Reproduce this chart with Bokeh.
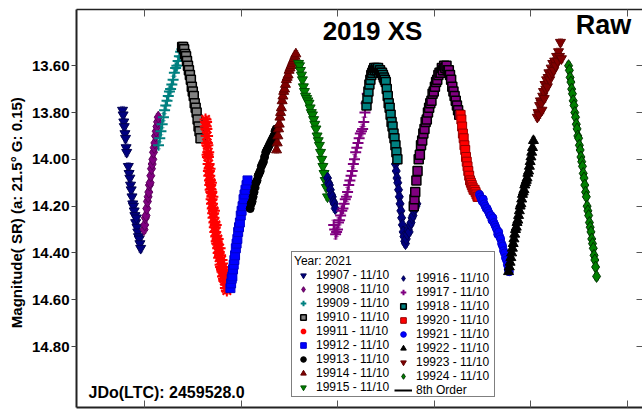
from bokeh.plotting import figure
from bokeh.models import (ColumnDataSource, Range1d, LinearAxis, FixedTicker,
                          NumeralTickFormatter, CustomJSTickFormatter, Legend,
                          LegendItem, Label, Whisker, TeeHead)
from bokeh.embed import file_html
from bokeh.resources import INLINE

FONT = "Liberation Sans"

# ---------------------------------------------------------------- data
y_ticks = [13.60, 13.80, 14.00, 14.20, 14.40, 14.60, 14.80]
x_ticks = [1, 2, 3, 4, 5, 6]          # hours after JDo

s19907_t = [0.772, 0.778, 0.785, 0.790, 0.797, 0.803, 0.809, 0.815, 0.832, 0.840,
            0.848, 0.855, 0.862, 0.870, 0.878, 0.885, 0.893, 0.900, 0.908, 0.915,
            0.922, 0.930, 0.937, 0.945, 0.952, 0.960]
s19907_mag = [13.79, 13.81, 13.84, 13.86, 13.89, 13.91, 13.95, 13.97, 14.03, 14.06,
              14.08, 14.11, 14.13, 14.16, 14.19, 14.20, 14.22, 14.24, 14.27, 14.25,
              14.29, 14.31, 14.33, 14.34, 14.36, 14.38]

s19908_t = [0.995, 1.002, 1.009, 1.016, 1.023, 1.030, 1.037, 1.044, 1.051, 1.058,
            1.065, 1.072, 1.079, 1.086, 1.093, 1.100, 1.107, 1.114, 1.121, 1.128,
            1.135, 1.142]
s19908_mag = [14.30, 14.28, 14.25, 14.24, 14.21, 14.18, 14.16, 14.14, 14.11, 14.10,
              14.07, 14.04, 14.02, 14.00, 13.97, 13.95, 13.93, 13.90, 13.88, 13.86,
              13.84, 13.82]

s19909_t = [1.145, 1.158, 1.170, 1.183, 1.196, 1.208, 1.220, 1.233, 1.246, 1.258,
            1.270, 1.283, 1.296, 1.309, 1.322, 1.335, 1.348, 1.361, 1.374, 1.387]
s19909_mag = [13.94, 13.91, 13.88, 13.85, 13.82, 13.79, 13.77, 13.75, 13.73, 13.71,
              13.70, 13.68, 13.66, 13.63, 13.61, 13.60, 13.58, 13.56, 13.54, 13.53]

s19910_t = [1.390, 1.400, 1.410, 1.420, 1.430, 1.440, 1.450, 1.460, 1.470, 1.480,
            1.490, 1.500, 1.510, 1.520, 1.530, 1.540, 1.550, 1.560, 1.570, 1.580]
s19910_mag = [13.52, 13.52, 13.53, 13.55, 13.56, 13.58, 13.60, 13.62, 13.64, 13.66,
              13.69, 13.71, 13.73, 13.76, 13.78, 13.80, 13.83, 13.86, 13.88, 13.91]

s19911_t = [1.632, 1.635, 1.638, 1.641, 1.643, 1.646, 1.648, 1.651, 1.653, 1.657,
            1.660, 1.664, 1.667, 1.671, 1.674, 1.678, 1.681, 1.685, 1.688, 1.692,
            1.695, 1.699, 1.703, 1.707, 1.711, 1.715, 1.719, 1.724, 1.728, 1.733,
            1.738, 1.743, 1.748, 1.753, 1.758, 1.763, 1.768, 1.773, 1.778, 1.783,
            1.788, 1.793, 1.798, 1.803, 1.808, 1.813, 1.818, 1.823, 1.828, 1.833,
            1.838, 1.843, 1.848, 1.853, 1.858]
s19911_mag = [13.83, 13.86, 13.84, 13.87, 13.90, 13.93, 13.90, 13.94, 13.98, 13.99,
              13.97, 14.02, 14.05, 14.07, 14.04, 14.09, 14.11, 14.13, 14.10, 14.14,
              14.17, 14.19, 14.16, 14.21, 14.23, 14.25, 14.22, 14.27, 14.29, 14.31,
              14.28, 14.33, 14.35, 14.36, 14.34, 14.38, 14.40, 14.42, 14.38, 14.41,
              14.45, 14.46, 14.43, 14.47, 14.48, 14.50, 14.46, 14.51, 14.52, 14.52,
              14.49, 14.55, 14.55, 14.56, 14.53]

s19912_t = [1.890, 1.897, 1.903, 1.910, 1.917, 1.924, 1.931, 1.938, 1.946, 1.954,
            1.962, 1.970, 1.979, 1.988, 1.997, 2.006, 2.016, 2.026, 2.036, 2.046,
            2.057, 2.067]
s19912_mag = [14.55, 14.53, 14.51, 14.50, 14.47, 14.45, 14.43, 14.41, 14.38, 14.36,
              14.34, 14.31, 14.29, 14.27, 14.24, 14.22, 14.20, 14.17, 14.15, 14.13,
              14.11, 14.09]

s19913_t = [2.095, 2.105, 2.115, 2.125, 2.135, 2.145, 2.155, 2.166, 2.177, 2.188,
            2.199, 2.210, 2.221, 2.232, 2.244, 2.256, 2.268, 2.280, 2.292, 2.304,
            2.316, 2.328, 2.340, 2.352, 2.364]
s19913_mag = [14.21, 14.19, 14.18, 14.16, 14.14, 14.12, 14.10, 14.09, 14.07, 14.06,
              14.05, 14.03, 14.02, 14.01, 13.99, 13.97, 13.96, 13.95, 13.94, 13.93,
              13.92, 13.91, 13.90, 13.88, 13.87]

s19914_t = [2.368, 2.375, 2.382, 2.389, 2.396, 2.403, 2.410, 2.418, 2.426, 2.434,
            2.442, 2.451, 2.460, 2.469, 2.478, 2.488, 2.498, 2.508, 2.518, 2.528,
            2.538, 2.548, 2.558, 2.568]
s19914_mag = [13.96, 13.93, 13.90, 13.87, 13.85, 13.82, 13.80, 13.78, 13.75, 13.73,
              13.71, 13.70, 13.68, 13.66, 13.65, 13.64, 13.62, 13.61, 13.60, 13.59,
              13.58, 13.57, 13.56, 13.55]

s19915_t = [2.596, 2.606, 2.616, 2.626, 2.636, 2.646, 2.657, 2.668, 2.680, 2.692,
            2.704, 2.716, 2.728, 2.740, 2.752, 2.764, 2.776, 2.788, 2.800, 2.812,
            2.824, 2.836, 2.848, 2.860, 2.872, 2.884, 2.896]
s19915_mag = [13.59, 13.60, 13.62, 13.64, 13.66, 13.69, 13.71, 13.73, 13.74, 13.75,
              13.76, 13.78, 13.80, 13.81, 13.83, 13.85, 13.87, 13.90, 13.92, 13.94,
              13.97, 14.00, 14.03, 14.06, 14.09, 14.12, 14.16]

s19916_t = [2.896, 2.906, 2.916, 2.926, 2.936, 2.946, 2.956, 2.966, 2.976,
            3.600, 3.608, 3.616, 3.624, 3.632, 3.640, 3.648, 3.656, 3.664, 3.672,
            3.680, 3.688, 3.696, 3.704, 3.712, 3.722, 3.732, 3.742, 3.752, 3.762,
            3.772, 3.782, 3.792, 3.802, 3.812, 3.822]
s19916_mag = [14.08, 14.10, 14.11, 14.13, 14.15, 14.16, 14.18, 14.19, 14.21,
              14.02, 14.05, 14.08, 14.10, 14.13, 14.16, 14.19, 14.22, 14.25, 14.28,
              14.31, 14.33, 14.35, 14.36, 14.34, 14.32, 14.30, 14.31, 14.28, 14.27,
              14.25, 14.24, 14.22, 14.21, 14.20, 14.19]

s19917_t = [2.960, 2.970, 2.980, 2.990, 3.000, 3.010, 3.021, 3.032, 3.044, 3.056,
            3.068, 3.080, 3.092, 3.104, 3.116, 3.128, 3.140, 3.152, 3.164, 3.176,
            3.188, 3.200, 3.212, 3.224, 3.236, 3.248, 3.260, 3.272, 3.284, 3.296,
            3.308]
s19917_mag = [14.28, 14.30, 14.32, 14.31, 14.30, 14.27, 14.26, 14.24, 14.22, 14.21,
              14.19, 14.17, 14.16, 14.14, 14.11, 14.09, 14.07, 14.05, 14.02, 14.00,
              13.97, 13.95, 13.93, 13.91, 13.89, 13.88, 13.87, 13.84, 13.80, 13.76,
              13.72]

s19918_t = [3.300, 3.310, 3.320, 3.330, 3.340, 3.350, 3.360, 3.370, 3.380, 3.390,
            3.400, 3.410, 3.420, 3.430, 3.440, 3.450, 3.460, 3.470, 3.480, 3.490,
            3.500, 3.510, 3.520, 3.530, 3.540, 3.550, 3.560, 3.570, 3.580, 3.590,
            3.600, 3.610, 3.620]
s19918_mag = [13.77, 13.74, 13.71, 13.68, 13.66, 13.64, 13.63, 13.62, 13.61, 13.62,
              13.61, 13.62, 13.61, 13.63, 13.62, 13.63, 13.63, 13.64, 13.65, 13.66,
              13.67, 13.70, 13.73, 13.76, 13.78, 13.81, 13.84, 13.86, 13.89, 13.91,
              13.94, 13.97, 14.00]

s19919_t = [3.790, 3.797, 3.805, 3.817, 3.829, 3.841, 3.853, 3.865, 3.877, 3.889,
            3.901, 3.913, 3.925, 3.937, 3.949, 3.961, 3.973, 3.985, 3.997, 4.009,
            4.021, 4.033, 4.045, 4.057, 4.069, 4.081, 4.093, 4.105, 4.117, 4.129,
            4.141, 4.153, 4.165, 4.177, 4.189, 4.201, 4.213, 4.225, 4.237, 4.249,
            4.261]
s19919_mag = [14.20, 14.17, 14.14, 14.09, 14.05, 14.00, 13.98, 13.94, 13.92, 13.89,
              13.87, 13.84, 13.83, 13.80, 13.78, 13.76, 13.75, 13.72, 13.71, 13.69,
              13.67, 13.66, 13.64, 13.63, 13.63, 13.61, 13.62, 13.60, 13.61, 13.60,
              13.62, 13.62, 13.64, 13.66, 13.69, 13.71, 13.73, 13.75, 13.77, 13.79,
              13.81]

s19920_t = [4.275, 4.283, 4.291, 4.299, 4.307, 4.315, 4.323, 4.331, 4.339, 4.347,
            4.355, 4.364, 4.373, 4.382, 4.391, 4.400, 4.410, 4.420, 4.430, 4.440,
            4.450, 4.460]
s19920_mag = [13.81, 13.83, 13.86, 13.89, 13.91, 13.94, 13.96, 13.99, 14.01, 14.03,
              14.05, 14.07, 14.09, 14.10, 14.11, 14.12, 14.13, 14.13, 14.14, 14.15,
              14.16, 14.16]

s19921_t = [4.470, 4.480, 4.490, 4.500, 4.510, 4.520, 4.530, 4.540, 4.550, 4.560,
            4.570, 4.580, 4.590, 4.600, 4.610, 4.620, 4.630, 4.640, 4.650, 4.660,
            4.670, 4.680, 4.690, 4.700, 4.710, 4.720, 4.730, 4.740, 4.750, 4.760,
            4.770, 4.780]
s19921_mag = [14.15, 14.16, 14.17, 14.18, 14.17, 14.19, 14.20, 14.21, 14.21, 14.22,
              14.23, 14.24, 14.24, 14.26, 14.25, 14.27, 14.28, 14.29, 14.30, 14.32,
              14.31, 14.33, 14.34, 14.36, 14.37, 14.39, 14.40, 14.42, 14.43, 14.45,
              14.47, 14.48]

s19922_t = [4.772, 4.780, 4.788, 4.796, 4.804, 4.812, 4.820, 4.828, 4.836, 4.844,
            4.852, 4.860, 4.868, 4.876, 4.884, 4.892, 4.900, 4.908, 4.916, 4.924,
            4.932, 4.940, 4.948, 4.956, 4.964, 4.972, 4.980, 4.988, 4.996, 5.004,
            5.012, 5.020, 5.030]
s19922_mag = [14.48, 14.46, 14.44, 14.42, 14.40, 14.38, 14.36, 14.34, 14.32, 14.30,
              14.29, 14.27, 14.26, 14.24, 14.22, 14.20, 14.19, 14.17, 14.15, 14.14,
              14.13, 14.11, 14.10, 14.09, 14.08, 14.06, 14.05, 14.03, 14.01, 13.99,
              13.97, 13.95, 13.92]

s19923_t = [5.070, 5.078, 5.086, 5.094, 5.102, 5.110, 5.118, 5.126, 5.134, 5.142,
            5.150, 5.158, 5.166, 5.174, 5.182, 5.190, 5.198, 5.206, 5.214, 5.222,
            5.230, 5.240, 5.250, 5.260, 5.270, 5.280, 5.290, 5.300, 5.310, 5.320]
s19923_mag = [13.82, 13.80, 13.81, 13.77, 13.75, 13.76, 13.79, 13.73, 13.71, 13.74,
              13.68, 13.70, 13.66, 13.69, 13.65, 13.63, 13.66, 13.64, 13.61, 13.63,
              13.59, 13.62, 13.58, 13.60, 13.56, 13.58, 13.54, 13.56, 13.50, 13.57]

s19924_t = [5.394, 5.402, 5.410, 5.418, 5.426, 5.434, 5.442, 5.450, 5.458, 5.466,
            5.474, 5.482, 5.490, 5.498, 5.506, 5.514, 5.522, 5.530, 5.538, 5.546,
            5.554, 5.562, 5.570, 5.578, 5.586, 5.594, 5.602, 5.610, 5.618, 5.626,
            5.634, 5.642, 5.650, 5.658, 5.666, 5.674, 5.684]
s19924_mag = [13.60, 13.62, 13.65, 13.67, 13.70, 13.72, 13.75, 13.77, 13.80, 13.82,
              13.85, 13.87, 13.90, 13.91, 13.94, 13.96, 13.99, 14.01, 14.03, 14.06,
              14.08, 14.11, 14.14, 14.16, 14.20, 14.22, 14.24, 14.27, 14.29, 14.31,
              14.34, 14.36, 14.38, 14.41, 14.43, 14.46, 14.50]

session_ids = ["19907", "19908", "19909", "19910", "19911", "19912", "19913",
               "19914", "19915", "19916", "19917", "19918", "19919", "19920",
               "19921", "19922", "19923", "19924"]
session_err = [0.016, 0.016, 0.015, 0.012, 0.016, 0.014, 0.014, 0.014, 0.015,
               0.016, 0.020, 0.012, 0.012, 0.012, 0.015, 0.015, 0.015, 0.016]
session_date = "11/10"

# 8th order Fourier fit: only its legend entry is shown
fit_t = [float("nan")]
fit_mag = [float("nan")]

series = {
    "19907": (s19907_t, s19907_mag), "19908": (s19908_t, s19908_mag),
    "19909": (s19909_t, s19909_mag), "19910": (s19910_t, s19910_mag),
    "19911": (s19911_t, s19911_mag), "19912": (s19912_t, s19912_mag),
    "19913": (s19913_t, s19913_mag), "19914": (s19914_t, s19914_mag),
    "19915": (s19915_t, s19915_mag), "19916": (s19916_t, s19916_mag),
    "19917": (s19917_t, s19917_mag), "19918": (s19918_t, s19918_mag),
    "19919": (s19919_t, s19919_mag), "19920": (s19920_t, s19920_mag),
    "19921": (s19921_t, s19921_mag), "19922": (s19922_t, s19922_mag),
    "19923": (s19923_t, s19923_mag), "19924": (s19924_t, s19924_mag),
}

# ---------------------------------------------------------------- styles
styles = {
    "19907": ("inverted_triangle", "#000080", "#000050", 10, 1),
    "19908": ("diamond", "#800080", "#5a005a", 12, 1),
    "19909": ("cross", "#008080", "#008080", 11, 2),
    "19910": ("square", "#808080", "#000000", 9, 1.5),
    "19911": ("asterisk", "#ff0000", "#ff0000", 12, 2),
    "19912": ("square", "#0000ff", "#0000cc", 9, 1),
    "19913": ("circle", "#000000", "#000000", 8, 1),
    "19914": ("triangle", "#800000", "#600000", 10, 1),
    "19915": ("inverted_triangle", "#008000", "#005000", 10, 1),
    "19916": ("diamond", "#000080", "#000050", 12, 1),
    "19917": ("cross", "#800080", "#800080", 11, 2),
    "19918": ("square", "#008080", "#000000", 9, 1.5),
    "19919": ("square", "#800080", "#000000", 9, 1.5),
    "19920": ("square", "#ff0000", "#990000", 9, 1),
    "19921": ("circle", "#0000ff", "#0000cc", 8, 1),
    "19922": ("triangle", "#000000", "#000000", 10, 1),
    "19923": ("inverted_triangle", "#800000", "#600000", 10, 1),
    "19924": ("diamond", "#008000", "#003000", 12, 1),
}

# ---------------------------------------------------------------- figure
p = figure(width=642, height=412, output_backend="svg", toolbar_location=None,
           x_range=Range1d(0.295, 6.16), y_range=Range1d(15.06, 13.36),
           min_border_left=76, min_border_right=0, min_border_top=9,
           min_border_bottom=5)
p.outline_line_color = None
p.background_fill_color = "white"
p.border_fill_color = "white"
p.grid.visible = False

blank = CustomJSTickFormatter(code="return ''")

# left axis: magnitude labels, ticks outward
ya = p.yaxis[0]
ya.ticker = FixedTicker(ticks=y_ticks)
ya.formatter = NumeralTickFormatter(format="0.00")
ya.axis_label = "Magnitude( SR)  (a: 21.5\u00b0  G: 0.15)"
ya.axis_label_text_font = FONT
ya.axis_label_text_font_size = "15px"
ya.axis_label_text_font_style = "bold"
ya.axis_label_text_color = "black"
ya.axis_label_standoff = 4
ya.major_label_text_font = FONT
ya.major_label_text_font_size = "15px"
ya.major_label_text_font_style = "bold"
ya.major_label_text_color = "black"
ya.major_label_standoff = 2
ya.major_tick_out = 5
ya.major_tick_in = 0
ya.minor_tick_out = 0
ya.minor_tick_in = 0
ya.axis_line_color = "#222222"
ya.axis_line_width = 2
ya.major_tick_line_color = "#444444"

# bottom axis: inward ticks only
xa = p.xaxis[0]
xa.ticker = FixedTicker(ticks=x_ticks)
xa.formatter = blank
xa.major_label_standoff = 0
xa.major_tick_out = 0
xa.major_tick_in = 7
xa.minor_tick_out = 0
xa.minor_tick_in = 0
xa.axis_line_color = "#222222"
xa.axis_line_width = 2
xa.major_tick_line_color = "#555555"

top = LinearAxis(ticker=FixedTicker(ticks=x_ticks), formatter=blank,
                 major_label_standoff=0, major_tick_out=0, major_tick_in=7,
                 minor_tick_out=0, minor_tick_in=0, axis_line_color="#222222",
                 axis_line_width=1.5, major_tick_line_color="#555555")
p.add_layout(top, "above")

right = LinearAxis(ticker=FixedTicker(ticks=y_ticks), formatter=blank,
                   major_label_standoff=0, major_tick_out=0, major_tick_in=6,
                   minor_tick_out=0, minor_tick_in=0, axis_line_color=None,
                   major_tick_line_color="#555555")
p.add_layout(right, "right")

# ---------------------------------------------------------------- sessions
renderers = {}
for sid, err in zip(session_ids, session_err):
    t, mag = series[sid]
    marker, fill, line, size, lw = styles[sid]
    src = ColumnDataSource(data=dict(
        t=t, mag=mag,
        lo=[m - err for m in mag], hi=[m + err for m in mag]))
    p.add_layout(Whisker(source=src, base="t", lower="lo", upper="hi",
                         line_color=fill, line_alpha=0.5, line_width=1,
                         lower_head=TeeHead(size=5, line_color=fill, line_alpha=0.5),
                         upper_head=TeeHead(size=5, line_color=fill, line_alpha=0.5)))
    renderers[sid] = p.scatter(x="t", y="mag", source=src, marker=marker,
                               size=size, fill_color=fill, line_color=line,
                               line_width=lw)

fit_r = p.line(x=fit_t, y=fit_mag, line_color="black", line_width=2)

# ---------------------------------------------------------------- legend
col1 = ["19907", "19908", "19909", "19910", "19911", "19912", "19913", "19914", "19915"]
col2 = ["19916", "19917", "19918", "19920", "19921", "19922", "19923", "19924"]

legend_style = dict(
    glyph_width=18, glyph_height=14, label_height=14, spacing=0, padding=2,
    margin=0, label_standoff=4, label_text_font=FONT,
    label_text_font_size="12px", label_text_color="black")

items1 = [LegendItem(label=f"{sid} - {session_date}", renderers=[renderers[sid]])
          for sid in col1]
items2 = [LegendItem(label=f"{sid} - {session_date}", renderers=[renderers[sid]])
          for sid in col2]
items2.append(LegendItem(label="8th Order", renderers=[fit_r]))

leg1 = Legend(items=items1, location=(215, 10), title="Year: 2021",
              title_text_font=FONT, title_text_font_size="12px",
              title_text_font_style="normal", title_text_color="black",
              title_standoff=0, label_width=176, border_line_color="black",
              border_line_width=1, background_fill_color="white",
              background_fill_alpha=1.0, **legend_style)
leg2 = Legend(items=items2, location=(318, 10), label_width=70,
              border_line_color=None, background_fill_alpha=0.0,
              **legend_style)
p.add_layout(leg1, "center")
p.add_layout(leg2, "center")

# ---------------------------------------------------------------- texts
p.add_layout(Label(x=296, y=377, x_units="screen", y_units="screen",
                   text="2019 XS", text_font=FONT, text_font_size="26px",
                   text_font_style="bold", text_align="center",
                   text_baseline="middle", text_color="black"))
p.add_layout(Label(x=527, y=383, x_units="screen", y_units="screen",
                   text="Raw", text_font=FONT, text_font_size="27px",
                   text_font_style="bold", text_align="center",
                   text_baseline="middle", text_color="black"))
p.add_layout(Label(x=12, y=15, x_units="screen", y_units="screen",
                   text="JDo(LTC): 2459528.0", text_font=FONT,
                   text_font_size="16px", text_font_style="bold",
                   text_align="left", text_baseline="middle", text_color="black"))

open("out.html", "w").write(file_html(p, INLINE, title="2019 XS"))
